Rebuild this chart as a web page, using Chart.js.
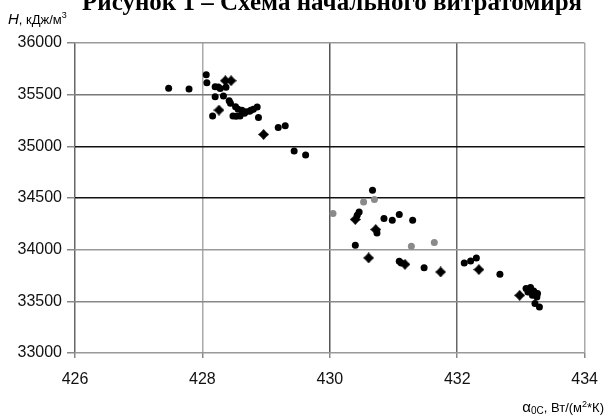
<!DOCTYPE html>
<html>
<head>
<meta charset="utf-8">
<script src="https://cdn.jsdelivr.net/npm/chart.js@4"></script>
<style>
  html, body { margin: 0; padding: 0; background: #fff; }
  #wrap { width: 610px; height: 420px; }
</style>
</head>
<body>
<div id="wrap"><canvas id="chart" width="610" height="420"></canvas></div>
<script>
// values: alpha (Вт/(м2*К)) and H (кДж/м3)
const dotAlpha = [427.47, 427.79, 428.06, 428.07, 428.20, 428.25, 428.28, 428.37, 428.20, 428.33,
    428.42, 428.44, 428.16, 428.52, 428.56, 428.62, 428.68, 428.74, 428.80, 428.86,
    428.48, 428.53, 428.59, 428.66, 428.76, 428.88, 429.19, 429.30, 429.44, 429.62,
    430.67, 430.46, 430.43, 430.74, 430.85, 430.98, 431.09, 431.30, 430.40, 431.09,
    431.12, 431.48, 432.11, 432.21, 432.30, 432.67, 433.08, 433.15, 433.20, 433.26,
    433.18, 433.25, 433.22, 433.29, 433.11];
const dotH = [35561, 35554, 35693, 35615, 35577, 35574, 35560, 35571, 35480, 35486,
    35441, 35416, 35293, 35383, 35358, 35350, 35335, 35340, 35360, 35380,
    35293, 35290, 35293, 35320, 35350, 35280, 35183, 35199, 34956, 34915,
    34576, 34365, 34333, 34162, 34301, 34285, 34340, 34285, 34043, 33888,
    33871, 33826, 33871, 33891, 33920, 33762, 33623, 33633, 33600, 33575,
    33558, 33542, 33478, 33445, 33590];

const starAlpha = [428.36, 428.45, 428.26, 428.96, 430.40, 430.72, 430.61, 431.18, 431.74, 432.34, 432.98];
const starH = [35635, 35635, 35351, 35115, 34292, 34195, 33920, 33858, 33784, 33807, 33558];

const faintAlpha = [430.53, 430.70, 430.05, 431.28, 431.64];
const faintH = [34462, 34485, 34350, 34033, 34069];

const xTicks = [426, 428, 430, 432, 434];
const yTicks = [33000, 33500, 34000, 34500, 35000, 35500, 36000];

function toPoints(xs, ys) {
    return xs.map((x, i) => ({ x: x, y: ys[i] }));
}

// four-point star marker, fat in the middle
function makeStar(size, color) {
    const c = document.createElement('canvas');
    c.width = size; c.height = size;
    const g = c.getContext('2d');
    const m = size / 2;
    const r = size / 2, q = size / 4.2;
    g.fillStyle = color;
    g.beginPath();
    g.moveTo(m, m - r);
    g.lineTo(m + q, m - q);
    g.lineTo(m + r, m);
    g.lineTo(m + q, m + q);
    g.lineTo(m, m + r);
    g.lineTo(m - q, m + q);
    g.lineTo(m - r, m);
    g.lineTo(m - q, m - q);
    g.closePath();
    g.fill();
    return c;
}

const xGrid = { 426: '#666', 428: '#aaa', 430: '#555', 432: '#666', 434: '#aaa' };
const yGrid = { 33000: '#999', 33500: '#888', 34000: '#999', 34500: '#111', 35000: '#111', 35500: '#777', 36000: '#999' };

const textPlugin = {
    id: 'texts',
    afterDraw(chart) {
        const c = chart.ctx;
        c.save();
        c.fillStyle = '#000';
        // clipped heading at top
        c.font = 'bold 25px "Liberation Serif"';
        c.textAlign = 'left';
        c.textBaseline = 'alphabetic';
        c.fillText('Рисунок 1 – Схема начального витратомиря', 82, 10);

        // y axis title
        c.font = 'italic 15px "Liberation Sans"';
        c.fillText('H', 8, 24);
        let w = c.measureText('H').width;
        c.font = '13px "Liberation Sans"';
        c.fillText(', кДж/м', 8 + w, 24);
        let w2 = c.measureText(', кДж/м').width;
        c.font = '9px "Liberation Sans"';
        c.fillText('3', 8 + w + w2, 18);

        // x axis title, right aligned
        const parts = [
            ['15px "Liberation Sans"', 'α', 0],
            ['10px "Liberation Sans"', '0C', 2],
            ['13px "Liberation Sans"', ', Вт/(м', 0],
            ['9px "Liberation Sans"', '2', -5],
            ['13px "Liberation Sans"', '*К)', 0]
        ];
        let total = 0;
        parts.forEach(p => { c.font = p[0]; total += c.measureText(p[1]).width; });
        let x = 604 - total;
        parts.forEach(p => {
            c.font = p[0];
            c.fillText(p[1], x, 412 + p[2]);
            x += c.measureText(p[1]).width;
        });
        c.restore();
    }
};

new Chart(document.getElementById('chart'), {
    type: 'scatter',
    data: {
        datasets: [{
            data: toPoints(faintAlpha, faintH),
            pointStyle: 'circle',
            pointRadius: 3.5,
            backgroundColor: '#8a8a8a',
            borderWidth: 0
        }, {
            data: toPoints(dotAlpha, dotH),
            pointStyle: 'circle',
            pointRadius: 3.5,
            backgroundColor: '#000',
            borderWidth: 0
        }, {
            data: toPoints(starAlpha, starH),
            pointStyle: makeStar(11, '#000'),
            pointRadius: 5.5
        }]
    },
    options: {
        responsive: false,
        animation: false,
        events: [],
        layout: { padding: { top: 43, right: 18, left: 0, bottom: 0 } },
        plugins: { legend: { display: false }, tooltip: { enabled: false } },
        scales: {
            x: {
                type: 'linear',
                min: 426, max: 434,
                afterBuildTicks: s => { s.ticks = xTicks.map(v => ({ value: v })); },
                afterFit: s => { s.height = 67; },
                border: { display: false },
                grid: {
                    color: ctx => xGrid[ctx.tick.value] || '#999',
                    lineWidth: 1.5,
                    tickLength: 5,
                    tickColor: '#888'
                },
                ticks: {
                    color: '#111',
                    padding: 12,
                    font: { family: 'Liberation Sans', size: 16 },
                    callback: v => String(v)
                }
            },
            y: {
                type: 'linear',
                min: 33000, max: 36000,
                afterBuildTicks: s => { s.ticks = yTicks.map(v => ({ value: v })); },
                afterFit: s => { s.width = 75; },
                border: { display: false },
                grid: {
                    color: ctx => yGrid[ctx.tick.value] || '#999',
                    lineWidth: 1.5,
                    tickLength: 8,
                    tickColor: '#888'
                },
                ticks: {
                    color: '#111',
                    padding: 5,
                    font: { family: 'Liberation Sans', size: 16 },
                    callback: v => String(v)
                }
            }
        }
    },
    plugins: [textPlugin]
});
</script>
</body>
</html>
